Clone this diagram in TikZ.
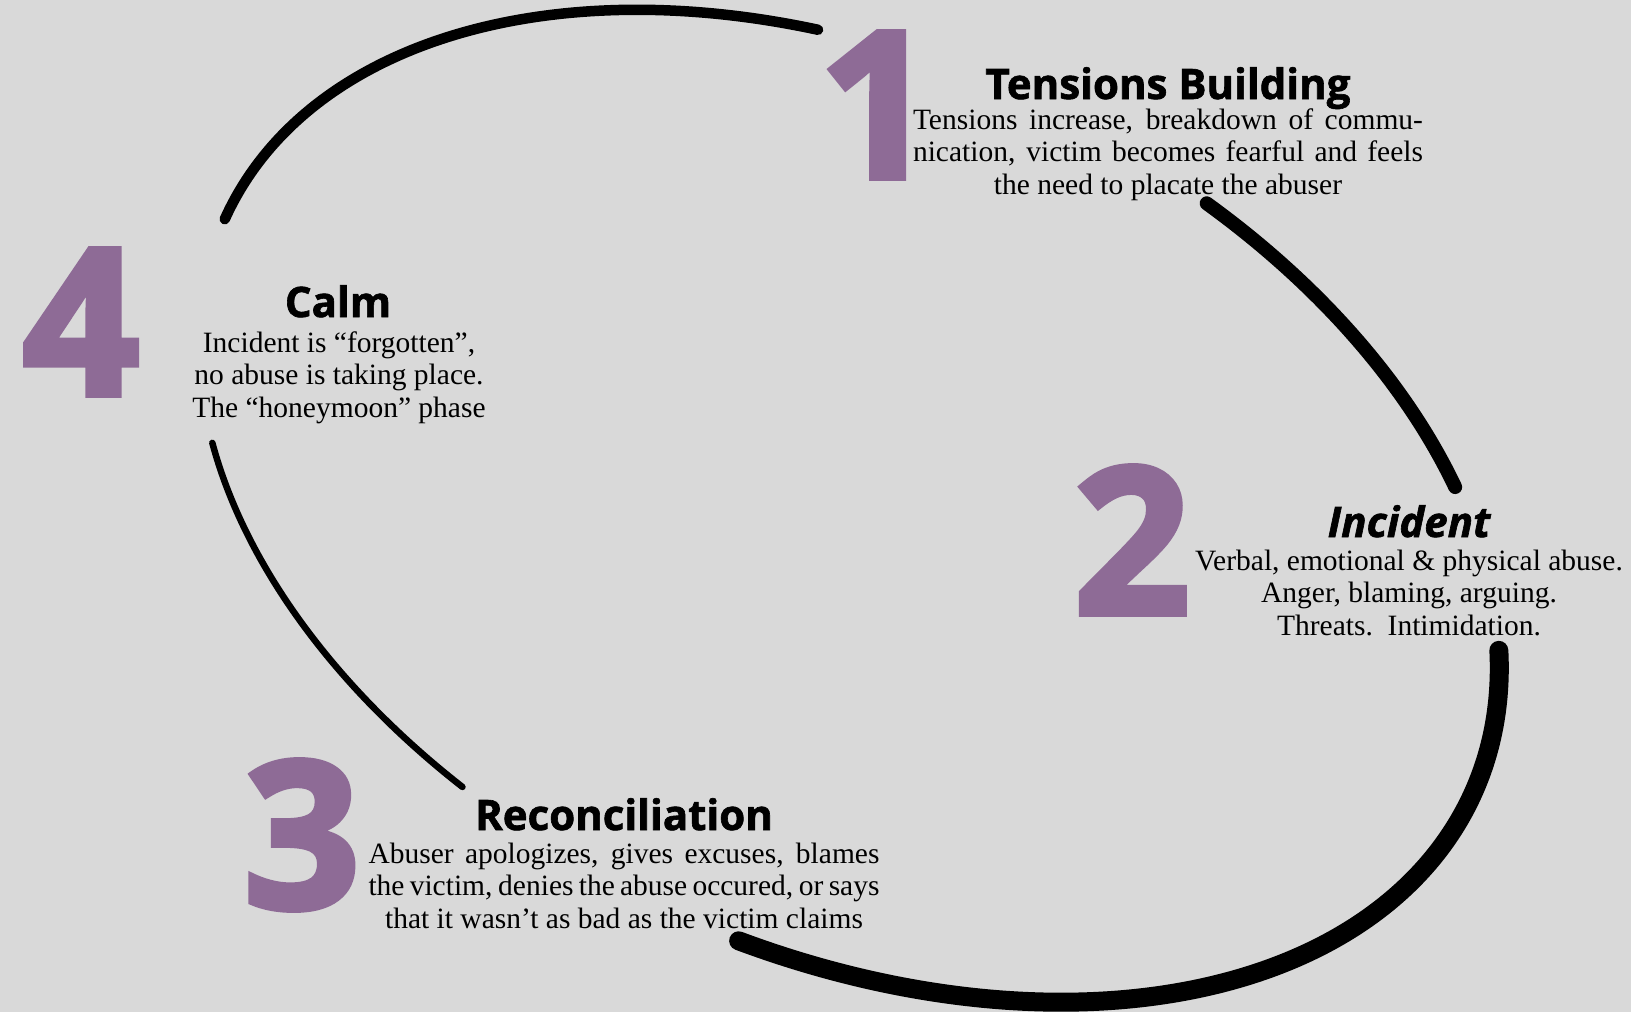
\documentclass[tikz,border=0pt]{standalone}
\usepackage{fontspec}
\setmainfont{Liberation Serif}
\newfontfamily\headfont{Open Sans}[BoldFeatures={FakeBold=1.5},BoldItalicFeatures={FakeBold=1.5}]
\newfontfamily\numfont{Open Sans}[BoldFeatures={FakeBold=3}]
\definecolor{bgcol}{RGB}{217,217,217}
\definecolor{numcol}{RGB}{142,107,150}
\tikzset{
  numeral/.style={inner sep=0pt, text=numcol, font=\numfont\bfseries\fontsize{204}{204}\selectfont},
  heading/.style={inner sep=0pt, anchor=base, font=\headfont\bfseries\fontsize{42}{46}\selectfont},
  bodytext/.style={inner sep=0pt, anchor=base, font=\fontsize{29.5}{32.5}\selectfont},
  arcline/.style={draw=black, line cap=round}
}
\begin{document}
\begin{tikzpicture}[x=1pt,y=1pt]
\useasboundingbox (0,0) rectangle (1631,-1012);
\fill[bgcol] (0,0) rectangle (1631,-1012);

% cycle arcs
\begin{scope}[shift={(849,-506)}, rotate=-25]
  \draw[arcline, line width=10.5pt] (180.5:687pt and 444pt) arc[start angle=180.5, end angle=109.5, x radius=687pt, y radius=444pt];
  \draw[arcline, line width=14pt] (73.4:687pt and 444pt) arc[start angle=73.4, end angle=38, x radius=687pt, y radius=444pt];
  \draw[arcline, line width=19pt] (18.9:687pt and 444pt) arc[start angle=18.9, end angle=-83, x radius=687pt, y radius=444pt];
  \draw[arcline, line width=6.5pt] (208.5:687pt and 444pt) arc[start angle=208.5, end angle=250.3, x radius=687pt, y radius=444pt];
\end{scope}

% phase 1
\node[numeral] (n1) at (877,-105) {1};
\node[heading] (h1) at (1168,-99) {Tensions Building};
\node[bodytext] (b1) at (1168,-129) {\begin{tabular}[t]{@{}c@{}}
\makebox[510pt][s]{Tensions increase, breakdown of commu-}\\
\makebox[510pt][s]{nication, victim becomes fearful and feels}\\
the need to placate the abuser\end{tabular}};

% phase 2
\node[numeral] (n2) at (1132,-540) {2};
\node[heading, font=\headfont\bfseries\itshape\fontsize{42}{46}\selectfont] (h2) at (1409,-537) {Incident};
\node[bodytext] (b2) at (1409,-570) {\begin{tabular}[t]{@{}c@{}}
Verbal, emotional \& physical abuse.\\
Anger, blaming, arguing.\\
Threats.\ \ Intimidation.\end{tabular}};

% phase 3
\node[numeral] (n3) at (302,-835) {3};
\node[heading] (h3) at (624,-830) {Reconciliation};
\node[bodytext] (b3) at (624,-863) {\begin{tabular}[t]{@{}c@{}}
\makebox[511pt][s]{Abuser apologizes, gives excuses, blames}\\
\makebox[511pt][s]{the victim, denies the abuse occured, or says}\\
that it wasn’t as bad as the victim claims\end{tabular}};

% phase 4
\node[numeral] (n4) at (81,-322) {4};
\node[heading] (h4) at (338,-317) {Calm};
\node[bodytext] (b4) at (339,-352) {\begin{tabular}[t]{@{}c@{}}
Incident is “forgotten”,\\
no abuse is taking place.\\
The “honeymoon” phase\end{tabular}};
\end{tikzpicture}
\end{document}
